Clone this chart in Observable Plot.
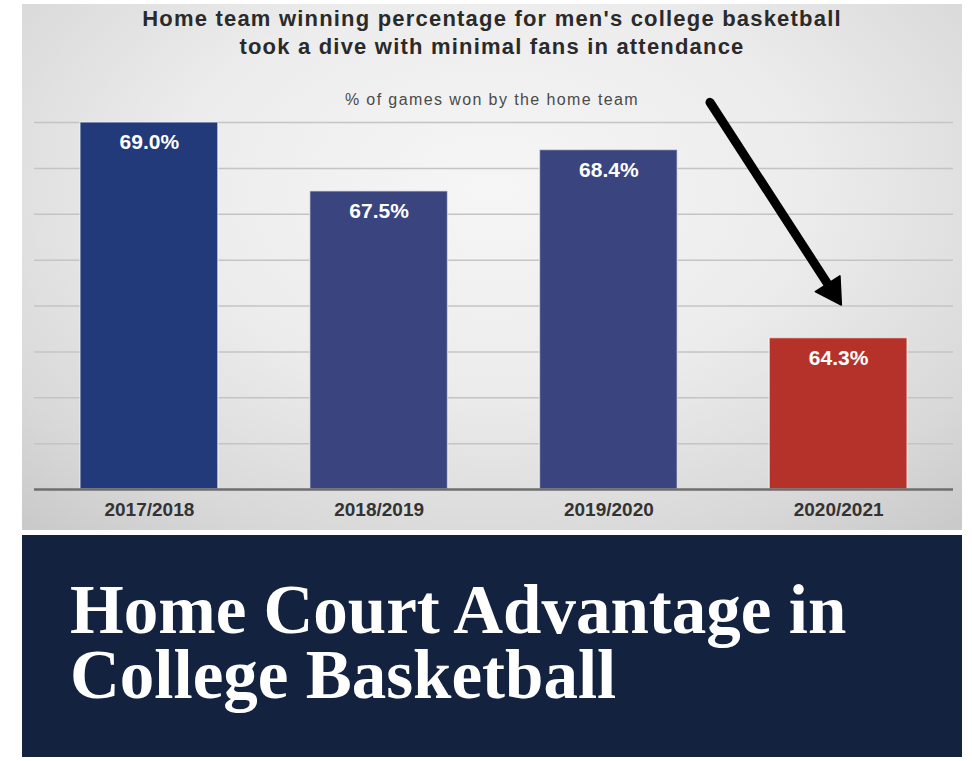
<!DOCTYPE html>
<html>
<head>
<meta charset="utf-8">
<script src="https://cdn.jsdelivr.net/npm/d3@7"></script>
<script src="https://cdn.jsdelivr.net/npm/@observablehq/plot@0.6"></script>
<style>
  html, body { margin: 0; padding: 0; background: #ffffff; }
  #panel {
    position: absolute; left: 22px; top: 4px; width: 940px; height: 526px;
    background: radial-gradient(ellipse 75% 85% at 50% 35%, #f6f6f6 0%, #ececec 45%, #d9d9d9 80%, #cacaca 100%);
    overflow: hidden;
  }
  #chart { position: absolute; left: 0; top: 0; }
  #title {
    position: absolute; left: 0; top: 1px; width: 940px; text-align: center;
    font-family: "Liberation Sans", Arial, sans-serif; font-weight: bold;
    font-size: 22px; line-height: 28px; letter-spacing: 1.2px; color: #2a2a2a;
  }
  #subtitle {
    position: absolute; left: 0; top: 86px; width: 940px; text-align: center;
    font-family: "Liberation Sans", Arial, sans-serif;
    font-size: 16px; line-height: 20px; letter-spacing: 1.4px; color: #4a4a4a;
  }
  #banner {
    position: absolute; left: 22px; top: 535px; width: 940px; height: 222px;
    background: #13223f;
  }
  #banner .line {
    position: absolute; left: 48px; white-space: nowrap;
    font-family: "Liberation Serif", "Times New Roman", serif; font-weight: bold;
    font-size: 69px; line-height: 65px; color: #ffffff;
  }
</style>
</head>
<body>
<div id="panel">
  <div id="chart"></div>
  <div id="title">Home team winning percentage for men's college basketball<br>took a dive with minimal fans in attendance</div>
  <div id="subtitle">% of games won by the home team</div>
</div>
<div id="banner">
  <div class="line" style="top:43px">Home Court Advantage in</div>
  <div class="line" style="top:108px">College Basketball</div>
</div>
<script>
// ---- data ----
const seasons = ["2017/2018", "2018/2019", "2019/2020", "2020/2021"];
const homeWinPct = [69.0, 67.5, 68.4, 64.3];
const yTicks = [61, 62, 63, 64, 65, 66, 67, 68, 69];
// annotation arrow (season index units, percent units)
const arrowStart = {x: 2.44, y: 69.44};
const arrowHead = {x: 2.972, y: 65.33};

// ---- styles ----
const barFill = ["#22397a", "#3a4580", "#3a4580", "#b5322b"];

const rows = seasons.map((s, i) => ({season: s, i, value: homeWinPct[i], fill: barFill[i]}));

const chart = Plot.plot({
  width: 940,
  height: 526,
  marginLeft: 12,
  marginRight: 9,
  marginTop: 118,
  marginBottom: 41,
  style: {background: "transparent", overflow: "visible"},
  x: {domain: [-0.5, 3.5], axis: null},
  y: {domain: [61, 69], axis: null},
  marks: [
    Plot.gridY(yTicks.slice(1), {stroke: "#c4c4c4", strokeOpacity: 1, strokeWidth: 1.5}),
    Plot.rectY(rows, {
      x1: d => d.i - 0.3, x2: d => d.i + 0.3, y1: 61, y2: "value",
      fill: d => d.fill, stroke: "#ffffff", strokeOpacity: 0.55, strokeWidth: 1.5
    }),
    Plot.ruleY([61], {stroke: "#6e6e6e", strokeWidth: 2.5}),
    Plot.text(rows, {
      x: "i", y: "value", text: d => d.value.toFixed(1) + "%",
      dy: 20, fill: "#ffffff", fontSize: 21, fontWeight: "bold",
      fontFamily: "Liberation Sans, Arial, sans-serif"
    }),
    Plot.axisX({
      ticks: [0, 1, 2, 3], tickFormat: i => seasons[i], tickSize: 0, tickPadding: 13,
      fontSize: 19, fontWeight: "bold", fill: "#333333",
      fontFamily: "Liberation Sans, Arial, sans-serif", label: null
    }),
    Plot.link([{x1: arrowStart.x, y1: arrowStart.y, x2: arrowHead.x, y2: arrowHead.y}], {
      x1: "x1", y1: "y1", x2: "x2", y2: "y2",
      stroke: "#000000", strokeWidth: 9, strokeLinecap: "round"
    }),
    Plot.dot([arrowHead], {
      x: "x", y: "y", symbol: "triangle2", r: 14, rotate: 147.2,
      fill: "#000000", stroke: "#000000", strokeWidth: 1.5, strokeLinejoin: "round"
    })
  ]
});
document.getElementById("chart").appendChild(chart);
</script>
</body>
</html>
